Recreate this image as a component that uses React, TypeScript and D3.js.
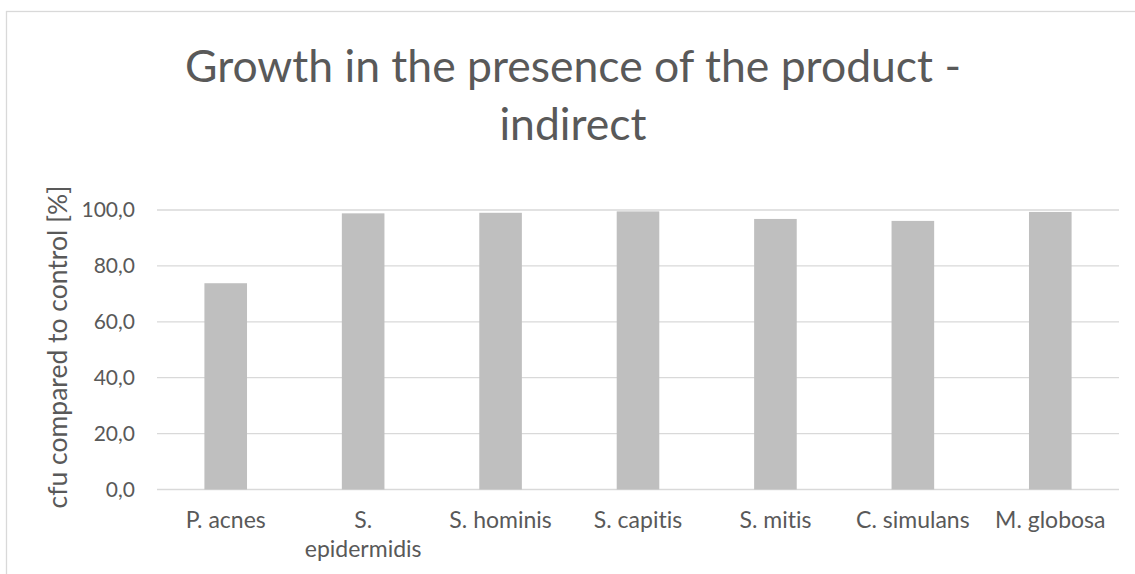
import React, { useEffect, useRef } from "react";
import * as d3 from "d3";

const categories = ["P. acnes", "S. epidermidis", "S. hominis", "S. capitis", "S. mitis", "C. simulans", "M. globosa"];
const values = [73.8, 98.8, 99.0, 99.5, 96.8, 96.1, 99.3];
const yTicks = [0, 20, 40, 60, 80, 100];
const titleLines = ["Growth in the presence of the product -", "indirect"];
const yAxisLabel = "cfu compared to control [%]";

const W = 1135;
const H = 574;
const FONT = "Lato, 'Open Sans', sans-serif";
const TXT = "#595959";

export default function App() {
  const ref = useRef<SVGSVGElement>(null);
  useEffect(() => {
    const svg = d3.select(ref.current);
    svg.selectAll("*").remove();
    svg.style("font-variant-ligatures", "none");
    const left = 157, right = 1119, top = 210, bottom = 489.5;

    svg.append("rect").attr("x", 6.5).attr("y", 11.5).attr("width", W + 20).attr("height", H + 20)
      .attr("fill", "white").attr("stroke", "#d9d9d9").attr("stroke-width", 1.3);

    const x = d3.scaleBand<string>().domain(categories).range([left, right]).paddingInner(0.69).paddingOuter(0.345);
    const y = d3.scaleLinear().domain([0, 100]).range([bottom, top]);

    // title
    const t = svg.append("text").attr("text-anchor", "middle").attr("fill", TXT)
      .attr("font-family", FONT).attr("font-size", 44.5);
    titleLines.forEach((l, i) => {
      t.append("tspan").attr("x", 573).attr("y", 82 + i * 58).text(l);
    });

    // grid
    svg.append("g").selectAll("line").data(yTicks).join("line")
      .attr("x1", left).attr("x2", right)
      .attr("y1", (d) => y(d)).attr("y2", (d) => y(d))
      .attr("stroke", "#d9d9d9").attr("stroke-width", 1.3);

    // y tick labels
    svg.append("g").selectAll("text").data(yTicks).join("text")
      .attr("x", 135).attr("y", (d) => y(d)).attr("dy", "0.35em")
      .attr("text-anchor", "end").attr("fill", TXT)
      .attr("font-family", FONT).attr("font-size", 21)
      .text((d) => d3.format(".1f")(d).replace(".", ","));

    // bars
    svg.append("g").selectAll("rect").data(values).join("rect")
      .attr("x", (_d, i) => x(categories[i])!)
      .attr("width", x.bandwidth())
      .attr("y", (d) => y(d))
      .attr("height", (d) => y(0) - y(d))
      .attr("fill", "#bfbfbf");

    // x labels with wrapping
    const maxW = x.step() * 0.88;
    categories.forEach((c) => {
      const cx = x(c)! + x.bandwidth() / 2;
      const txt = svg.append("text").attr("text-anchor", "middle").attr("fill", TXT)
        .attr("font-family", FONT).attr("font-size", 23);
      const words = c.split(" ");
      let line: string[] = [];
      let lineNo = 0;
      let tspan = txt.append("tspan").attr("x", cx).attr("y", 528);
      words.forEach((w) => {
        line.push(w);
        tspan.text(line.join(" "));
        if ((tspan.node() as SVGTSpanElement).getComputedTextLength() > maxW && line.length > 1) {
          line.pop();
          tspan.text(line.join(" "));
          line = [w];
          lineNo++;
          tspan = txt.append("tspan").attr("x", cx).attr("y", 528 + lineNo * 29).text(w);
        }
      });
    });

    // y axis title
    svg.append("text").attr("transform", `translate(58,347) rotate(-90)`)
      .attr("text-anchor", "middle").attr("dy", "0.35em").attr("fill", TXT)
      .attr("font-family", FONT).attr("font-size", 26.5).text(yAxisLabel);
  }, []);
  return (
    <svg ref={ref} width={W} height={H} style={{ position: "absolute", left: 0, top: 0, background: "white" }} />
  );
}
